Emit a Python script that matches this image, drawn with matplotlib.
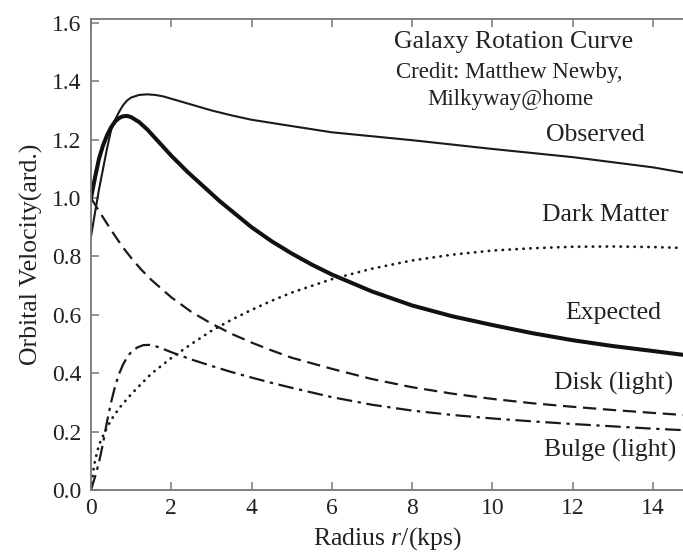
import matplotlib
matplotlib.use("Agg")
import matplotlib.pyplot as plt

# values
obs_r = [0, 0.1, 0.2, 0.3, 0.4, 0.5, 0.6, 0.7, 0.8, 0.9, 1.0, 1.2, 1.4, 1.6, 1.8, 2.0, 2.5,
         3.0, 3.5, 4.0, 4.83, 6.0, 8.0, 10.0, 12.0, 14.0, 14.75]
obs_v = [0.868, 0.95, 1.03, 1.1, 1.17, 1.232, 1.268, 1.295, 1.318, 1.334, 1.344, 1.353, 1.355,
         1.353, 1.348, 1.34, 1.32, 1.30, 1.283, 1.268, 1.25, 1.225, 1.198, 1.168, 1.14, 1.105, 1.087]

exp_r = [0, 0.1, 0.2, 0.3, 0.4, 0.5, 0.6, 0.7, 0.8, 0.9, 1.0, 1.2, 1.4, 1.6, 1.8, 2.0, 2.4,
         2.8, 3.2, 3.6, 4.0, 4.5, 5.0, 5.5, 6.0, 7.0, 8.0, 9.0, 10.0, 11.0, 12.0, 13.0, 14.0, 14.75]
exp_v = [1.0, 1.07, 1.135, 1.18, 1.215, 1.242, 1.262, 1.274, 1.28, 1.281, 1.277, 1.26, 1.235,
         1.205, 1.175, 1.145, 1.09, 1.04, 0.99, 0.945, 0.9, 0.852, 0.81, 0.772, 0.738, 0.68,
         0.632, 0.595, 0.565, 0.537, 0.513, 0.493, 0.476, 0.463]

dm_r = [0, 0.05, 0.1, 0.2, 0.35, 0.5, 0.7, 1.0, 1.5, 2.0, 2.5, 3.0, 3.5, 4.0, 4.5, 5.0, 6.0,
        7.0, 8.0, 9.0, 10.0, 11.0, 12.0, 13.0, 14.0, 14.75]
dm_v = [0, 0.06, 0.1, 0.155, 0.2, 0.24, 0.28, 0.328, 0.398, 0.452, 0.5, 0.545, 0.583, 0.617,
        0.648, 0.676, 0.722, 0.758, 0.786, 0.806, 0.82, 0.828, 0.833, 0.834, 0.832, 0.829]

disk_r = [0, 0.2, 0.4, 0.6, 0.8, 1.0, 1.25, 1.5, 2.0, 2.5, 3.0, 3.5, 4.0, 4.5, 5.0, 6.0, 7.0,
          8.0, 9.0, 10.0, 11.0, 12.0, 13.0, 14.0, 14.75]
disk_v = [1.0, 0.955, 0.912, 0.87, 0.83, 0.795, 0.755, 0.72, 0.66, 0.61, 0.57, 0.535, 0.505,
          0.478, 0.453, 0.415, 0.38, 0.352, 0.33, 0.312, 0.297, 0.285, 0.274, 0.264, 0.257]

bulge_r = [0, 0.1, 0.2, 0.3, 0.4, 0.5, 0.6, 0.7, 0.8, 0.9, 1.0, 1.15, 1.3, 1.45, 1.6, 1.8,
           2.0, 2.5, 3.0, 3.5, 4.0, 4.5, 5.0, 6.0, 7.0, 8.0, 9.0, 10.0, 11.0, 12.0, 13.0, 14.0, 14.75]
bulge_v = [0, 0.045, 0.095, 0.16, 0.235, 0.3, 0.355, 0.398, 0.43, 0.455, 0.472, 0.488, 0.496,
           0.497, 0.493, 0.483, 0.472, 0.447, 0.425, 0.404, 0.385, 0.367, 0.35, 0.318, 0.292,
           0.272, 0.257, 0.245, 0.235, 0.226, 0.218, 0.21, 0.205]

x_ticks = [0, 2, 4, 6, 8, 10, 12, 14]
y_ticks = [0.0, 0.2, 0.4, 0.6, 0.8, 1.0, 1.2, 1.4, 1.6]

plt.rcParams['font.family'] = ['Liberation Serif', 'DejaVu Serif']
plt.rcParams['mathtext.fontset'] = 'custom'
plt.rcParams['mathtext.rm'] = 'Liberation Serif'
plt.rcParams['mathtext.it'] = 'Liberation Serif:italic'
txt = '#222222'

fig = plt.figure(figsize=(6.83, 5.55), dpi=100)
ax = fig.add_axes([91/683, 65/555, 592/683, 470.7/555])

ax.plot(obs_r, obs_v, color='#1a1a1a', lw=1.5, solid_capstyle='round', solid_joinstyle='round')
ax.plot(exp_r, exp_v, color='#111111', lw=2.9, solid_capstyle='round', solid_joinstyle='round')
ax.plot(dm_r, dm_v, color='#1a1a1a', lw=2.0, dashes=(0.1, 2.4), dash_capstyle='round')
ax.plot(disk_r, disk_v, color='#1a1a1a', lw=1.6, dashes=(6, 3))
ax.plot(bulge_r, bulge_v, color='#1a1a1a', lw=1.6, dashes=(7, 2.5, 1.5, 2.5))

ax.set_xlim(0, 14.75)
ax.set_ylim(0, 1.612)
ax.set_xticks(x_ticks)
ax.set_xticklabels([str(t) for t in x_ticks])
ax.set_yticks(y_ticks)
ax.set_yticklabels(['%.1f' % t for t in y_ticks])
ax.tick_params(direction='in', length=6, width=1.1, color='#777777', labelsize=17,
               labelcolor=txt, top=True, right=False, pad=6)
ax.tick_params(axis='y', pad=7)
for s in ['left', 'bottom', 'top']:
    ax.spines[s].set_color('#777777')
    ax.spines[s].set_linewidth(1.3)
ax.spines['right'].set_visible(False)

ax.set_xlabel('Radius $r$/(kps)', fontsize=18.5, color=txt, labelpad=4)
ax.set_ylabel('Orbital Velocity(ard.)', fontsize=18.5, color=txt, labelpad=6)

ax.text(13.5, 1.535, 'Galaxy Rotation Curve', ha='right', va='center', fontsize=18.5, color=txt)
ax.text(13.25, 1.43, 'Credit: Matthew Newby,', ha='right', va='center', fontsize=16.5, color=txt)
ax.text(12.53, 1.336, 'Milkyway@home', ha='right', va='center', fontsize=16.5, color=txt)

ax.text(13.8, 1.216, 'Observed', ha='right', va='center', fontsize=18.5, color=txt)
ax.text(14.4, 0.942, 'Dark Matter', ha='right', va='center', fontsize=18.5, color=txt)
ax.text(14.2, 0.606, 'Expected', ha='right', va='center', fontsize=18.5, color=txt)
ax.text(14.5, 0.366, 'Disk (light)', ha='right', va='center', fontsize=18.5, color=txt)
ax.text(14.57, 0.137, 'Bulge (light)', ha='right', va='center', fontsize=18.5, color=txt)

fig.savefig('out.png', dpi=100)
